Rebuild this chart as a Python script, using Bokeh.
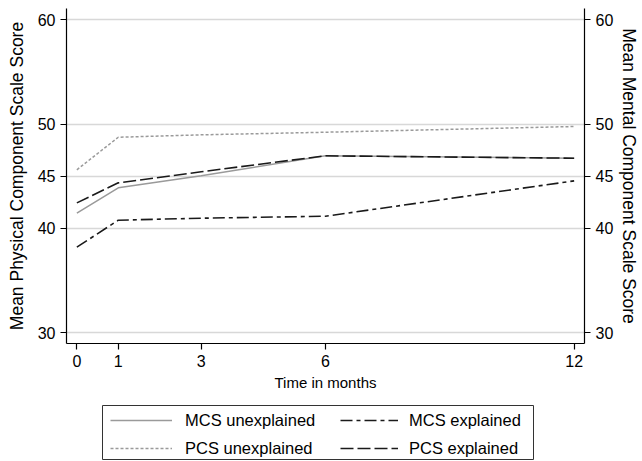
from bokeh.plotting import figure
from bokeh.models import LinearAxis, FixedTicker, Legend, LegendItem, Range1d, Spacer
from bokeh.layouts import column, row
from bokeh.embed import file_html
from bokeh.resources import INLINE

months = [0, 1, 3, 6, 12]
mcs_unexplained = [41.46, 43.89, 45.04, 46.96, 46.73]
pcs_unexplained = [45.62, 48.74, 48.97, 49.22, 49.77]
mcs_explained = [38.20, 40.79, 40.98, 41.17, 44.56]
pcs_explained = [42.45, 44.37, 45.43, 46.96, 46.73]

x_ticks = [0, 1, 3, 6, 12]
y_ticks = [30, 40, 45, 50, 60]

FONT = "Liberation Sans"
GREY = "#9a9a9a"
DARK = "#1a1a1a"
series = {
    "MCS unexplained": (mcs_unexplained, dict(line_color=GREY, line_width=1.5)),
    "PCS unexplained": (pcs_unexplained, dict(line_color=GREY, line_width=1.5, line_dash="3 2")),
    "MCS explained": (mcs_explained, dict(line_color=DARK, line_width=1.6, line_dash="12 4 4 4")),
    "PCS explained": (pcs_explained, dict(line_color=DARK, line_width=1.6, line_dash="13 4")),
}
draw_order = ["PCS unexplained", "MCS unexplained", "MCS explained", "PCS explained"]

p = figure(width=642, height=397, output_backend="svg", toolbar_location=None,
           x_range=Range1d(-0.25, 12.25), y_range=Range1d(28.97, 61.08),
           min_border_left=66, min_border_right=58, min_border_top=8,
           min_border_bottom=54)
p.outline_line_color = None
p.background_fill_color = "white"
p.border_fill_color = "white"

for name in draw_order:
    vals, st = series[name]
    p.line(months, vals, **st)

p.xgrid.visible = False
p.ygrid.grid_line_color = "#d8d8d8"
p.ygrid.grid_line_width = 1.5

def style_axis(ax):
    ax.axis_line_color = "black"
    ax.axis_line_width = 1.2
    ax.major_tick_line_color = "black"
    ax.major_tick_line_width = 1.2
    ax.major_tick_out = 6
    ax.major_tick_in = 0
    ax.minor_tick_line_color = None
    ax.major_label_text_font = FONT
    ax.major_label_text_font_size = "16px"
    ax.major_label_text_color = "black"
    ax.major_label_standoff = 5
    ax.axis_label_text_font = FONT
    ax.axis_label_text_font_size = "15px"
    ax.axis_label_text_font_style = "normal"
    ax.axis_label_text_color = "black"

p.xaxis.ticker = FixedTicker(ticks=x_ticks)
p.xaxis.axis_label = "Time in months"
p.yaxis.ticker = FixedTicker(ticks=y_ticks)
p.yaxis.axis_label = "Mean Physical Component Scale Score"
style_axis(p.xaxis[0])
style_axis(p.yaxis[0])
p.xaxis.axis_label_standoff = 4
p.yaxis.axis_label_standoff = 8
p.yaxis.axis_label_text_font_size = "17.5px"

right = LinearAxis(ticker=FixedTicker(ticks=y_ticks),
                   axis_label="Mean Mental Component Scale Score")
style_axis(right)
right.axis_label_standoff = 3
right.axis_label_text_font_size = "17.5px"
p.add_layout(right, "right")

# legend panel: its frame outline is the legend box
lg = figure(width=432, height=64, output_backend="svg", toolbar_location=None,
            x_range=Range1d(100, 101), y_range=Range1d(100, 101),
            x_axis_type=None, y_axis_type=None,
            min_border_left=0, min_border_right=0, min_border_top=8,
            min_border_bottom=2)
lg.xgrid.visible = False
lg.ygrid.visible = False
lg.outline_line_color = "#333333"
lg.outline_line_width = 1
lg.border_fill_color = "white"
lg.background_fill_color = "white"

samples = {}
for name in draw_order:
    vals, st = series[name]
    samples[name] = lg.line(months, vals, **st)

def make_legend(names, loc, glyph_w, standoff):
    leg = Legend(items=[LegendItem(label=n, renderers=[samples[n]]) for n in names],
                 location=loc)
    leg.label_text_font = FONT
    leg.label_text_font_size = "16.5px"
    leg.label_text_color = "black"
    leg.glyph_width = glyph_w
    leg.glyph_height = 20
    leg.label_height = 20
    leg.label_standoff = standoff
    leg.spacing = 8
    leg.padding = 0
    leg.margin = 0
    leg.border_line_color = None
    leg.background_fill_alpha = 0
    return leg

lg.add_layout(make_legend(["MCS unexplained", "PCS unexplained"], (8, 1), 62, 13), "center")
lg.add_layout(make_legend(["MCS explained", "PCS explained"], (238, 1), 58, 11), "center")

layout = column(p, row(Spacer(width=102, height=64), lg))
open("out.html", "w").write(file_html(layout, INLINE))
